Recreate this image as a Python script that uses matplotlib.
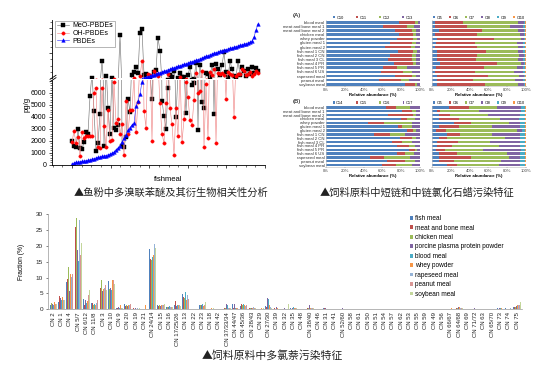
import numpy as np
import matplotlib
matplotlib.use("Agg")
import matplotlib.pyplot as plt

plt.rcParams['font.family'] = ['Liberation Sans', 'Noto Sans CJK SC', 'DejaVu Sans']
plt.rcParams['axes.unicode_minus'] = False

# ---------------- 数据：鱼粉中多溴联苯醚 (pg/g) ----------------
meo_pbdes = [2000, 1600, 1450, 3000, 1400, 1300, 1900, 2700, 2600, 5700,
             7600, 4500, 1150, 1850, 4200, 16000, 1600, 8500, 4700, 2600,
             7600, 3100, 2900, 3300, 29000, 1600, 1500, 2300, 5500, 4400,
             9000, 10500, 13000, 10000, 30000, 32000, 9000, 9500, 8500, 7500,
             5500, 10500, 11500, 27500, 21000, 5300, 4100, 3000, 6400, 9000,
             8000, 11000, 4000, 7600, 10000, 8000, 8000, 4300, 9000, 13000,
             6600, 6800, 15000, 2900, 14000, 5200, 4700, 10000, 9500, 8000,
             14000, 4200, 14500, 12000, 9000, 14000, 20500, 10500, 8000, 16000,
             12000, 8500, 8000, 16000, 9000, 13000, 11000, 8500, 12000, 9500,
             13000, 10000, 12500, 11000]
oh_pbdes = [1900, 2800, 1800, 2300, 700, 2700, 2200, 2400, 2400, 2400,
            2400, 6000, 6400, 1500, 1400, 6400, 3200, 1500, 4600, 2000,
            2100, 6900, 3500, 3800, 2600, 3400, 800, 5300, 2600, 4600,
            4600, 7400, 2700, 5200, 8500, 16000, 4500, 3100, 9500, 9000,
            2000, 11000, 9500, 8500, 5100, 2600, 1800, 5100, 9500, 4700,
            3400, 800, 4700, 2400, 8000, 1900, 3800, 6900, 5600, 3700,
            3300, 5400, 10000, 6000, 6100, 11000, 1500, 6700, 2200, 10500,
            9000, 12000, 1800, 10000, 9500, 10000, 9000, 5500, 10500, 9500,
            9000, 4000, 8500, 9500, 9500, 12000, 11000, 9000, 9500, 10500,
            8500, 9500, 11000, 10000]
pbdes = [100, 150, 200, 230, 260, 290, 320, 350, 380, 420,
         470, 520, 570, 620, 660, 700, 740, 780, 830, 880,
         950, 1050, 1250, 1400, 1600, 1900, 2200, 2500, 2900, 3100,
         3300, 3450, 4900, 5300, 5900, 6900, 7600, 7900, 8200, 8500,
         8800, 9100, 9500, 9800, 10200, 10500, 10900, 11200, 11600, 11900,
         12300, 12600, 13000, 13300, 13700, 14000, 14300, 14600, 15000, 15300,
         15700, 16000, 16400, 16700, 17100, 17500, 17900, 18300, 18700, 19100,
         19500, 19900, 20200, 20500, 20800, 21100, 21400, 21700, 22000, 22300,
         22600, 22900, 23200, 23500, 23800, 24100, 24400, 24700, 25000, 25300,
         26000, 28000, 31500, 34500]

# ---------------- 数据：短链/中链氯化石蜡 ----------------
feed_names = ["blood meal", "meat and bone meal 1", "meat and bone meal 2", "chicken meal",
              "whey powder", "gluten meal 1", "gluten meal 2", "fish meal 1 CN",
              "fish meal 2 CN", "fish meal 3 CL", "fish meal 4 PR", "fish meal 5 PR",
              "fish meal 6 US", "rapeseed meal", "peanut meal", "soybean meal"]
sccp_carbon = ["C10", "C11", "C12", "C13"]
mccp_carbon = ["C14", "C15", "C16", "C17"]
chlorine_groups = ["Cl5", "Cl6", "Cl7", "Cl8", "Cl9", "Cl10"]
sccp_c = [[78, 17, 3, 2], [61, 25, 8, 6], [73, 18, 5, 4], [78, 15, 3, 4],
          [75, 18, 4, 3], [68, 23, 5, 4], [63, 27, 5, 5], [77, 16, 4, 3],
          [68, 23, 5, 4], [66, 25, 5, 4], [72, 21, 3, 4], [61, 14, 11, 14],
          [59, 23, 9, 9], [73, 18, 5, 4], [56, 24, 8, 12], [84, 11, 2, 3]]
sccp_cl = [[3, 30, 59, 6, 1, 1], [3, 34, 46, 14, 2, 1], [7, 46, 39, 6, 1, 1],
           [3, 45, 46, 4, 1, 1], [5, 61, 29, 3, 1, 1], [4, 42, 44, 7, 2, 1],
           [3, 45, 43, 6, 2, 1], [5, 52, 35, 5, 2, 1], [5, 43, 45, 5, 1, 1],
           [5, 42, 44, 6, 2, 1], [8, 61, 26, 3, 1, 1], [4, 51, 35, 7, 2, 1],
           [3, 43, 41, 10, 2, 1], [5, 55, 33, 5, 1, 1], [5, 39, 44, 9, 2, 1],
           [5, 51, 36, 6, 1, 1]]
mccp_c = [[64, 10, 15, 11], [81, 10, 5, 4], [66, 27, 3, 4], [80, 6, 9, 5],
          [45, 17, 29, 9], [77, 4, 10, 9], [86, 7, 3, 4], [51, 17, 16, 16],
          [79, 12, 5, 4], [70, 11, 10, 9], [75, 13, 7, 5], [88, 7, 2, 3],
          [75, 9, 10, 6], [47, 15, 27, 11], [65, 19, 11, 5], [60, 14, 17, 9]]
mccp_cl = [[18, 21, 30, 26, 4, 1], [5, 3, 42, 45, 4, 1], [7, 12, 41, 34, 5, 1],
           [7, 22, 43, 21, 6, 1], [23, 18, 41, 12, 5, 1], [7, 22, 35, 30, 5, 1],
           [4, 11, 75, 6, 3, 1], [16, 14, 34, 30, 5, 1], [7, 9, 62, 16, 5, 1],
           [5, 23, 34, 32, 5, 1], [5, 16, 50, 23, 5, 1], [4, 10, 40, 41, 4, 1],
           [7, 20, 53, 14, 5, 1], [7, 34, 41, 12, 5, 1], [7, 16, 50, 21, 5, 1],
           [16, 11, 44, 23, 5, 1]]

# ---------------- 数据：多氯萘 Fraction (%) ----------------
pcn_feeds = ["fish meal", "meat and bone meal", "chicken meal", "porcine plasma protein powder",
             "blood meal", "whey powder", "rapeseed meal", "peanut meal", "soybean meal"]
pcn_congeners = ["CN 2", "CN 1", "CN 4", "CN 5/7", "CN 6/12", "CN 11/8", "CN 3", "CN 10", "CN 9",
                 "CN 20", "CN 19", "CN 21", "CN 24/14", "CN 15", "CN 16", "CN 17/25/26", "CN 13",
                 "CN 22", "CN 23", "CN 18", "CN 42", "CN 37/33/34", "CN 44/47", "CN 45/36",
                 "CN 28/43", "CN 29", "CN 27/30", "CN 39", "CN 32", "CN 35", "CN 48", "CN 38/40",
                 "CN 46", "CN 31", "CN 41", "CN 52/60", "CN 58", "CN 61", "CN 50", "CN 51",
                 "CN 54", "CN 57", "CN 62", "CN 53", "CN 55", "CN 59", "CN 49", "CN 56",
                 "CN 66/67", "CN 64/68", "CN 69", "CN 71/72", "CN 63", "CN 65/70", "CN 73",
                 "CN 74", "CN 75"]
# 每行对应一个同类物，列顺序同 pcn_feeds
pcn_fraction = [
    [1.2, 2.2, 2.0, 1.8, 1.5, 2.3, 1.8, 1.7, 1.6],
    [2.4, 4.3, 2.5, 3.5, 3.0, 3.8, 3.0, 3.5, 2.8],
    [8.5, 9.5, 13.2, 5.8, 10.0, 11.0, 10.2, 11.0, 6.5],
    [25.5, 25.8, 28.6, 18.8, 15.3, 16.5, 28.2, 17.0, 21.0],
    [3.2, 1.5, 2.5, 3.0, 2.0, 2.5, 3.5, 4.5, 6.2],
    [2.1, 2.0, 1.5, 1.4, 1.8, 1.5, 2.0, 3.0, 1.8],
    [8.0, 6.8, 9.3, 5.8, 5.5, 6.5, 6.8, 7.8, 6.2],
    [8.8, 7.5, 6.3, 6.8, 6.2, 9.3, 8.7, 9.2, 8.0],
    [0.5, 0.3, 0.4, 0.6, 0.3, 1.4, 0.5, 0.6, 0.4],
    [1.8, 1.0, 1.4, 1.0, 1.7, 1.3, 1.2, 1.8, 2.0],
    [0.2, 0.3, 0.2, 0.5, 0.2, 0.8, 0.3, 0.2, 0.3],
    [0.2, 0.1, 0.2, 0.2, 0.1, 1.3, 0.2, 0.2, 0.2],
    [19.0, 15.8, 15.5, 14.8, 16.5, 17.0, 20.5, 17.5, 19.3],
    [1.2, 1.0, 1.3, 1.0, 1.2, 1.3, 1.5, 1.2, 1.6],
    [0.8, 0.5, 0.7, 0.6, 1.0, 2.0, 0.8, 0.8, 0.6],
    [1.5, 2.7, 1.2, 1.0, 1.5, 1.2, 1.3, 1.0, 1.0],
    [4.8, 4.0, 3.5, 3.8, 5.6, 3.0, 4.5, 3.2, 3.0],
    [0.2, 0.1, 0.2, 0.1, 0.1, 0.3, 0.2, 0.1, 0.2],
    [1.4, 1.0, 1.2, 1.2, 1.6, 1.0, 1.2, 1.5, 2.3],
    [0.2, 0.2, 0.1, 0.1, 0.2, 0.5, 0.2, 0.2, 0.3],
    [0.2, 0.1, 0.1, 0.2, 0.8, 0.2, 0.2, 0.1, 0.2],
    [0.5, 0.3, 0.4, 1.6, 1.3, 0.4, 0.5, 0.3, 0.4],
    [1.7, 0.4, 0.3, 1.8, 0.5, 0.3, 0.5, 0.3, 0.2],
    [1.0, 1.6, 1.2, 3.7, 1.8, 1.4, 1.0, 1.2, 0.8],
    [0.5, 0.4, 0.3, 0.4, 1.1, 0.3, 0.6, 0.3, 0.3],
    [0.2, 0.2, 0.1, 0.2, 0.2, 0.4, 0.2, 0.2, 0.3],
    [1.0, 0.6, 0.8, 3.4, 3.2, 1.2, 0.8, 0.7, 0.5],
    [0.2, 0.3, 0.2, 0.6, 0.2, 0.3, 0.2, 0.2, 0.2],
    [0.2, 0.2, 0.1, 0.3, 0.1, 0.2, 0.2, 0.2, 1.6],
    [0.3, 0.2, 0.5, 0.3, 0.6, 0.4, 0.3, 0.3, 0.3],
    [0.2, 0.1, 0.1, 0.2, 0.1, 0.1, 0.2, 0.1, 0.2],
    [0.5, 0.3, 0.4, 1.2, 1.5, 0.3, 0.3, 0.3, 0.3],
    [0.2, 0.1, 0.1, 0.2, 0.1, 0.2, 0.2, 0.1, 0.1],
    [0.3, 0.4, 0.2, 0.3, 0.2, 0.2, 0.2, 0.2, 0.2],
    [0.1, 0.1, 0.1, 0.2, 0.1, 0.2, 0.1, 0.1, 0.1],
    [0.2, 0.2, 0.1, 0.3, 0.2, 0.4, 0.2, 0.2, 0.2],
    [0.1, 0.1, 0.1, 0.2, 0.1, 0.1, 0.1, 0.1, 0.1],
    [0.1, 0.1, 0.1, 0.1, 0.1, 0.2, 0.1, 0.1, 0.1],
    [0.2, 0.1, 0.1, 0.2, 0.1, 0.2, 0.1, 0.1, 0.1],
    [0.1, 0.1, 0.1, 0.2, 0.1, 0.2, 0.1, 0.1, 0.1],
    [0.1, 0.1, 0.1, 0.1, 0.1, 0.1, 0.1, 0.1, 0.1],
    [0.1, 0.1, 0.1, 0.1, 0.1, 0.2, 0.1, 0.1, 0.1],
    [0.1, 0.1, 0.1, 0.1, 0.1, 0.1, 0.1, 0.1, 0.1],
    [0.1, 0.1, 0.1, 0.2, 0.1, 0.1, 0.1, 0.1, 0.1],
    [0.1, 0.1, 0.1, 0.1, 0.1, 0.1, 0.1, 0.1, 0.1],
    [0.1, 0.1, 0.1, 0.1, 0.1, 0.2, 0.1, 0.1, 0.1],
    [0.1, 0.1, 0.1, 0.1, 0.1, 0.1, 0.1, 0.1, 0.1],
    [0.1, 0.1, 0.1, 0.1, 0.1, 0.1, 0.1, 0.1, 0.1],
    [0.2, 0.1, 0.2, 0.3, 0.2, 0.3, 0.2, 0.2, 0.2],
    [0.5, 0.3, 0.4, 0.6, 0.5, 0.6, 0.3, 0.4, 0.3],
    [0.1, 0.1, 0.1, 0.2, 0.1, 0.1, 0.1, 0.1, 0.1],
    [0.2, 0.1, 0.2, 0.3, 0.2, 0.2, 0.2, 0.2, 0.1],
    [0.1, 0.1, 0.1, 0.1, 0.1, 0.1, 0.1, 0.1, 0.1],
    [0.1, 0.1, 0.1, 0.2, 0.1, 0.1, 0.1, 0.1, 0.1],
    [0.3, 0.2, 0.3, 0.4, 0.3, 0.3, 0.3, 0.2, 0.2],
    [0.3, 0.2, 0.2, 0.3, 0.2, 0.2, 0.3, 0.2, 0.2],
    [0.6, 0.8, 0.7, 1.0, 1.0, 1.2, 1.4, 1.5, 2.2],
]

excel_colors = ["#4F81BD", "#C0504D", "#9BBB59", "#8064A2", "#4BACC6", "#F79646",
                "#95B3D7", "#D99694", "#C3D69B"]
caption_font = ['Noto Sans CJK SC', 'DejaVu Sans']

W, H = 550, 367
fig = plt.figure(figsize=(W / 100, H / 100), dpi=100)


# 按像素位置添加坐标轴
def ax_px(left, top, right, bottom):
    return fig.add_axes([left / W, 1 - bottom / H, (right - left) / W, (bottom - top) / H])


# ---------------- 图1：断轴折线散点 ----------------
def draw_pbde_panel():
    ax_top = ax_px(52, 20, 265, 78)
    ax_low = ax_px(52, 80, 265, 165.5)
    x = np.arange(len(pbdes))
    series = [(meo_pbdes, "MeO-PBDEs", "s", "black", "#777777", 2.2),
              (oh_pbdes, "OH-PBDEs", "o", "red", "#f08a8a", 2.4),
              (pbdes, "PBDEs", "^", "blue", "#3a3aff", 2.6)]
    for ax in (ax_top, ax_low):
        for vals, name, mk, c, lc, ms in series:
            ax.plot(x, vals, color=lc, lw=0.45, marker=mk, ms=ms, mfc=c, mec=c,
                    mew=0.3, label=name)
        ax.set_xlim(-10, 96.5)
        ax.set_xticks([0, 19.3, 38.6, 57.9, 77.2, 96.5])
        ax.set_xticklabels([])
        ax.spines['top'].set_visible(False)
        ax.spines['right'].set_visible(False)
        for s in ('left', 'bottom'):
            ax.spines[s].set_linewidth(0.6)
        ax.tick_params(direction='out', length=2.5, width=0.5, labelsize=5, pad=1.5)
        ax.minorticks_on()
        ax.tick_params(which='minor', length=1.3, width=0.4)

    ax_top.set_ylim(7500, 36500)
    ax_top.set_yticks([20000, 32500])
    ax_top.set_yticklabels([])
    ax_top.spines['bottom'].set_visible(False)
    ax_top.tick_params(axis='x', which='both', bottom=False)
    leg = ax_top.legend(loc='upper left', bbox_to_anchor=(0.012, 1.0), fontsize=5,
                        frameon=True, fancybox=False, edgecolor='#999999', framealpha=1,
                        borderpad=0.25, labelspacing=0.1, handlelength=1.8, handletextpad=0.4,
                        borderaxespad=0.1)
    leg.get_frame().set_linewidth(0.5)

    ax_low.set_ylim(-50, 7050)
    ax_low.set_yticks(range(0, 7000, 1000))
    ax_low.set_ylabel("pg/g", fontsize=5.5)
    ax_low.yaxis.set_label_coords(-0.103, 0.72)
    ax_low.set_xlabel("fishmeal", fontsize=5.5)
    ax_low.xaxis.set_label_coords(0.545, -0.12)

    # 断轴标记
    for dy in (-1.2, 1.2):
        fig.add_artist(plt.Line2D([50 / W, 56 / W], [1 - (80.5 + dy) / H, 1 - (76.5 + dy) / H],
                                  color='black', lw=0.6))

    fig.text(171 / W, 1 - 193 / H, "▲鱼粉中多溴联苯醚及其衍生物相关性分析", family=caption_font,
             fontsize=7.4, color='#222222', ha='center', va='center')


# ---------------- 图2：堆积条形图 ----------------
def stacked_barh(ax, rows, names, show_labels, legend_gap):
    vals = np.array(rows, dtype=float)
    y = np.arange(len(vals))
    left = np.zeros(len(vals))
    for j, name in enumerate(names):
        ax.barh(y, vals[:, j], left=left, height=0.62, color=excel_colors[j], label=name)
        left += vals[:, j]
    ax.set_ylim(len(vals) - 0.5, -0.5)
    ax.set_xlim(0, 100)
    ax.set_xticks(range(0, 101, 20))
    ax.set_xticklabels([f"{v}%" for v in range(0, 101, 20)])
    ax.tick_params(axis='x', labelsize=3.1, length=0.8, width=0.3, pad=0.6, colors='#444444')
    ax.set_yticks(y)
    if show_labels:
        ax.set_yticklabels(feed_names)
        ax.tick_params(axis='y', labelsize=3.1, length=0, pad=1, colors='#333333')
    else:
        ax.set_yticklabels([])
        ax.tick_params(axis='y', length=0)
    for s in ('top', 'right'):
        ax.spines[s].set_visible(False)
    for s in ('left', 'bottom'):
        ax.spines[s].set_color('#bbbbbb')
        ax.spines[s].set_linewidth(0.4)
    ax.set_xlabel("Relative abundance (%)", fontsize=3.1, fontweight='bold', labelpad=0.6)
    ax.legend(loc='lower center', bbox_to_anchor=(0.5, 1.0), ncol=len(names), fontsize=2.8,
              frameon=False, handlelength=0.5, handleheight=0.5, handletextpad=0.4,
              columnspacing=legend_gap, borderaxespad=0.05, borderpad=0.1)


def draw_cp_panel():
    stacked_barh(ax_px(326, 20.2, 420, 86.4), sccp_c, sccp_carbon, True, 3.2)
    stacked_barh(ax_px(432, 20.2, 526, 86.4), sccp_cl, chlorine_groups, False, 1.7)
    stacked_barh(ax_px(326, 105.5, 420, 167), mccp_c, mccp_carbon, True, 3.2)
    stacked_barh(ax_px(432, 105.5, 526, 167), mccp_cl, chlorine_groups, False, 1.7)
    fig.text(297 / W, 1 - 16 / H, "(A)", fontsize=4.5, ha='center', va='center')
    fig.text(297 / W, 1 - 102 / H, "(B)", fontsize=4.5, ha='center', va='center')
    fig.text(417 / W, 1 - 193 / H, "▲饲料原料中短链和中链氯化石蜡污染特征", family=caption_font,
             fontsize=7.4, color='#222222', ha='center', va='center')


# ---------------- 图3：多氯萘分组柱状图 ----------------
def draw_pcn_panel():
    ax = ax_px(48, 214, 522, 309.3)
    vals = np.array(pcn_fraction)
    x = np.arange(len(pcn_congeners))
    w = 0.095
    for k, name in enumerate(pcn_feeds):
        ax.bar(x + (k - 4) * w, vals[:, k], width=w, color=excel_colors[k], label=name)
    ax.set_xlim(-0.65, 56.6)
    ax.set_ylim(0, 30)
    ax.set_yticks(range(0, 31, 5))
    ax.set_xticks(x)
    ax.set_xticklabels(pcn_congeners, rotation=90)
    ax.tick_params(axis='x', labelsize=4.3, length=0, pad=2, colors='#222222')
    ax.tick_params(axis='y', labelsize=4.6, length=1.5, width=0.4, pad=2, colors='#222222')
    for s in ('top', 'right'):
        ax.spines[s].set_visible(False)
    for s in ('left', 'bottom'):
        ax.spines[s].set_color('#999999')
        ax.spines[s].set_linewidth(0.5)
    ax.set_ylabel("Fraction (%)", fontsize=4.8)
    ax.yaxis.set_label_coords(-0.048, 0.5)
    ax.legend(loc='upper left', bbox_to_anchor=(0.755, 1.03), fontsize=4.7, frameon=False,
              handlelength=0.5, handleheight=0.5, handletextpad=0.3, labelspacing=0.38,
              borderaxespad=0.2)
    fig.text(272 / W, 1 - 355 / H, "▲饲料原料中多氯萘污染特征", family=caption_font,
             fontsize=7.8, color='#222222', ha='center', va='center')


draw_pbde_panel()
draw_cp_panel()
draw_pcn_panel()
fig.savefig("out.png", dpi=100)
